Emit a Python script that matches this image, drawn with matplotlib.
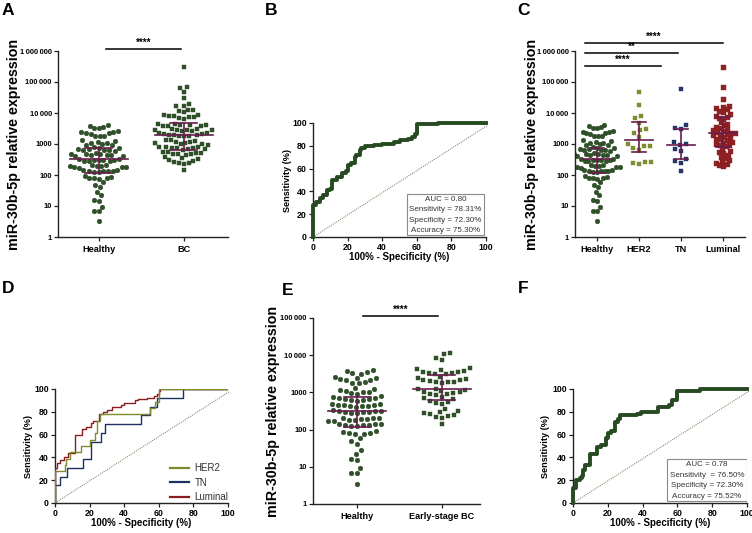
import numpy as np
import matplotlib
matplotlib.use("Agg")
import matplotlib.pyplot as plt
from matplotlib.patches import Rectangle

plt.rcParams['font.family'] = ['Liberation Sans', 'DejaVu Sans']

# ---------------- data ----------------
healthy = [4000, 3800, 3500, 3300, 3200,
           2600, 2500, 2400, 2300, 2200, 2100,
           1850, 1800, 1750,
           1300, 1250, 1150, 1100, 1050, 1000, 950, 900,
           780, 750, 720, 700, 680, 660, 640, 620, 600,
           500, 480, 470, 460, 450, 440, 430, 420, 410,
           330, 320, 315, 310, 300, 295, 290, 285, 280,
           210, 205, 200, 195, 190, 185, 180, 175, 170,
           145, 140, 138, 135, 132, 130, 128, 125,
           90, 85, 82, 80, 78, 75,
           60, 48, 42, 28, 22, 16, 15, 9.5, 7, 6.8, 3.4]
bc = [310000,
      71000, 63000, 49000,
      30000,
      19500, 17000, 17000,
      12600, 12400, 12000, 10500,
      8800, 8400, 8200, 7900, 7600, 7300, 7000, 6600,
      4400, 4300, 4200, 4100, 4000, 3900, 3800, 3700,
      3100, 3000, 2900, 2850, 2800, 2750, 2700, 2600,
      2300, 2200, 2100, 2050, 2000, 1950, 1900, 1850, 1800, 1750,
      1350, 1300, 1250, 1200, 1150, 1100, 1050, 1000, 980, 950,
      820, 800, 780, 760, 740, 720, 700, 680, 650,
      560, 540, 520, 500, 480, 470, 460, 450,
      370, 350, 330, 310, 290, 270, 250, 240, 230,
      140]
her2 = [47000, 18000, 8200, 6700, 4700, 3000, 2800, 2300, 1700,
        980, 880, 860, 760, 640, 260, 260, 240, 220]
tn = [59000, 4100, 3400, 3100, 1130, 980, 930, 670, 590, 320, 290, 250, 130]
luminal = [300000, 67000, 28000,
           17000, 15000, 16000, 12000, 13000, 11000,
           7400, 8000, 7000, 6500, 9000,
           5000, 4500, 4000, 3500, 3300, 3000,
           2800, 2600, 2400, 2300, 2200, 2100, 2000, 1900,
           1700, 1600, 1500, 1400, 1300, 1200,
           1100, 1000, 950, 900, 850,
           700, 600, 550, 500, 450,
           380, 350, 300,
           280, 250, 230, 210, 200]
early_bc = [11700, 10500, 8500, 7400,
            4400, 4200, 4000, 3800, 3600, 3500, 3400, 3300, 3200, 3100,
            2600, 2400, 2300, 2200, 2100, 2000, 1950, 1900, 1850, 1800,
            1250, 1200, 1150, 1100, 1050, 1000, 960, 920, 880, 850,
            750, 700, 650, 600, 560, 530, 500,
            350, 320, 300, 280, 260, 240, 230, 220, 210,
            140]

# median and interquartile range
a_cats = ["Healthy", "BC"]
a_med = [325, 1950]
a_q1 = [120, 650]
a_q3 = [730, 4800]

c_cats = ["Healthy", "HER2", "TN", "Luminal"]
c_med = [325, 1350, 930, 2200]
c_q1 = [120, 540, 330, 820]
c_q3 = [730, 5200, 3100, 7600]

e_cats = ["Healthy", "Early-stage BC"]
e_med = [325, 1200]
e_q1 = [120, 630]
e_q3 = [730, 3000]

# ROC curves (100% - specificity, sensitivity)
b_fpr = [0, 0, 2, 4, 6, 8, 10, 11, 14, 17, 19, 20, 22, 24, 25, 27, 28, 30, 35, 40, 47, 50, 55, 57, 59, 60, 72, 100]
b_tpr = [0, 28, 31, 34, 37, 41, 42, 50, 53, 56, 58, 63, 65, 70, 72, 76, 78, 80, 81, 82, 83, 85, 86, 88, 90, 99, 100, 100]
b_stats = ["AUC = 0.80", "Sensitivity = 78.31%", "Specificity = 72.30%", "Accuracy = 75.30%"]

f_fpr = [0, 0, 2, 4, 5, 6, 7, 10, 14, 16, 19, 20, 22, 24, 26, 27, 37, 39, 49, 55, 57, 60, 73, 100]
f_tpr = [0, 13, 20, 22, 24, 29, 33, 43, 49, 51, 57, 61, 63, 71, 74, 77, 78, 80, 84, 86, 90, 98, 100, 100]
f_stats = ["AUC = 0.78", "Sensitivity  = 76.50%", "Specificity = 72.30%", "Accuracy = 75.52%"]

her2_fpr = [0, 0, 5.8, 6.5, 8.7, 15, 20, 23, 24.5, 26, 55, 58, 60, 100]
her2_tpr = [0, 27.8, 33.3, 38.9, 44.4, 50, 55.6, 61.1, 72.2, 77.8, 83.3, 88.9, 100, 100]
tn_fpr = [0, 0, 2.9, 7, 16, 20.6, 26.4, 29, 49.5, 55, 58.8, 73.8, 100]
tn_tpr = [0, 15.4, 23.1, 30.8, 38.5, 53.8, 61.5, 69.2, 76.9, 84.6, 92.3, 100, 100]
lum_fpr = [0, 0, 1, 3, 5, 7.7, 11.6, 15.4, 18, 21, 22, 25.6, 28, 30, 33, 38, 40, 46, 48, 53, 57, 59, 60, 60.5, 100]
lum_tpr = [0, 31, 35, 38, 40, 44, 60, 65, 67, 70, 72, 78, 80, 82, 84, 86, 88, 90, 91, 92, 94, 96, 98, 100, 100]

# ---------------- styling ----------------
GREEN = "#284a22"
OLIVE = "#7b8a2c"
NAVY = "#1e2f62"
RED = "#8b1c1f"
PURPLE = "#6b1d4e"
DIAG = "#5d7d50"
W, H = 752, 533

fig = plt.figure(figsize=(7.52, 5.33), dpi=100)


def ax_px(l, t, r, b):
    return fig.add_axes([l / W, 1 - b / H, (r - l) / W, (b - t) / H])


def swarm(values, decade_px, d, max_half):
    ys = np.log10(np.asarray(values, float)) * decade_px
    order = np.argsort(ys)
    xs = np.zeros(len(ys))
    placed = []
    for i in order:
        y = ys[i]
        near = [(xj, yj) for xj, yj in placed if abs(y - yj) < d]
        cands = [0.0]
        for xj, yj in near:
            dx = np.sqrt(d * d - (y - yj) ** 2)
            cands += [xj + dx, xj - dx]
        best = 0.0
        for c in sorted(cands, key=lambda v: (abs(v), v)):
            if all((c - xj) ** 2 + (y - yj) ** 2 >= d * d - 1e-6 for xj, yj in near):
                best = c
                break
        xs[i] = best
        placed.append((best, y))
    m = np.max(np.abs(xs)) if len(xs) else 0
    if m > max_half:
        xs = xs * max_half / m
    return xs


def tick_fmt(v):
    v = int(v)
    if v >= 10000:
        return f"{v:,}".replace(",", "\u2009")
    return str(v)


def style_axes(ax):
    for s in ("top", "right"):
        ax.spines[s].set_visible(False)
    for s in ("left", "bottom"):
        ax.spines[s].set_linewidth(1.0)
        ax.spines[s].set_color("#222222")
    ax.tick_params(direction="out", length=3, width=0.9, color="#222222", pad=1.5)


def scatter_panel(ax, groups, cats, colors, markers, sizes, ds, halfs, med, q1, q3,
                  top_exp, decade_px, cat_px, xlim):
    ax.set_yscale("log")
    ax.set_ylim(1, 10 ** top_exp)
    ax.set_xlim(*xlim)
    for i, vals in enumerate(groups):
        off = swarm(vals, decade_px, ds[i], halfs[i]) / cat_px
        ax.plot(i + off, vals, ls="none", marker=markers[i], ms=sizes[i],
                mfc=colors[i], mec=colors[i], mew=0.3, alpha=0.97, zorder=2)
        ax.plot([i - 0.34, i + 0.34], [med[i], med[i]], color=PURPLE, lw=1.2, zorder=3)
        ax.plot([i, i], [q1[i], q3[i]], color=PURPLE, lw=1.2, zorder=3)
        for q in (q1[i], q3[i]):
            ax.plot([i - 0.16, i + 0.16], [q, q], color=PURPLE, lw=1.2, zorder=3)
    ticks = [10 ** k for k in range(top_exp + 1)]
    ax.set_yticks(ticks)
    ax.set_yticklabels([tick_fmt(t) for t in ticks], fontsize=5.4, fontweight="bold")
    ax.yaxis.set_minor_locator(matplotlib.ticker.NullLocator())
    ax.set_xticks(range(len(cats)))
    ax.set_xticklabels(cats, fontsize=6.6, fontweight="bold")
    style_axes(ax)
    ax.tick_params(axis="x", pad=3)
    ax.set_ylabel("miR-30b-5p relative expression", fontsize=10.3, fontweight="bold")


def sig(ax, x0, x1, y, text):
    tr = ax.get_xaxis_transform()
    ax.plot([x0, x1], [y, y], color="black", lw=1.1, transform=tr, clip_on=False)
    ax.text((x0 + x1) / 2, y + 0.006, text, transform=tr, ha="center", va="bottom",
            fontsize=7, fontweight="bold")


def roc_axes(ax):
    ax.set_xlim(0, 100)
    ax.set_ylim(0, 100)
    ax.set_xticks(range(0, 101, 20))
    ax.set_yticks(range(0, 101, 20))
    for lab in ax.get_xticklabels() + ax.get_yticklabels():
        lab.set_fontsize(6.3)
        lab.set_fontweight("bold")
    style_axes(ax)
    ax.plot([0, 101], [0, 98], ls=(0, (1, 1.2)), color=DIAG, lw=0.7, zorder=1, clip_on=False)
    ax.set_xlabel("100% - Specificity (%)", fontsize=7, fontweight="bold")
    ax.set_ylabel("Sensitivity (%)", fontsize=6.6, fontweight="bold")
    ax.xaxis.set_label_coords(0.5, -0.135)


def stats_box(ax, x0, x1, y0, y1, lines):
    ax.add_patch(Rectangle((x0, y0), x1 - x0, y1 - y0, transform=ax.transAxes,
                           fill=True, facecolor="white", edgecolor="#8a8a8a", lw=0.8, zorder=4))
    n = len(lines)
    for k, t in enumerate(lines):
        yy = y1 - (k + 0.55) * (y1 - y0) / n
        ax.text((x0 + x1) / 2, yy, t, transform=ax.transAxes, ha="center", va="center",
                fontsize=5.8, color="#333333", zorder=5)


# ---------- A ----------
axA = ax_px(58, 51, 228, 237)
scatter_panel(axA, [healthy, bc], a_cats, [GREEN, GREEN], ["o", "s"], [3.4, 3.1],
              [6.3, 6.2], [29, 29], a_med, a_q1, a_q3, 6, 31.0, 85.0, (-0.48, 1.52))
axA.yaxis.set_label_coords(-0.215, 0.5)
sig(axA, (106 - 99) / 85, (181 - 99) / 85, 1.011, "****")

# ---------- B ----------
axB = ax_px(313, 123, 486, 237)
roc_axes(axB)
axB.plot(b_fpr, b_tpr, drawstyle="steps-post", color=GREEN, lw=2.8, zorder=3, clip_on=False)
axB.yaxis.set_label_coords(-0.12, 0.5)
stats_box(axB, 0.543, 0.988, 0.018, 0.377, b_stats)

# ---------- C ----------
axC = ax_px(575, 51, 745, 237)
scatter_panel(axC, [healthy, her2, tn, luminal], c_cats, [GREEN, OLIVE, NAVY, RED],
              ["o", "s", "s", "s"], [3.4, 3.1, 3.1, 3.6], [6.3, 6.2, 6.2, 4.6],
              [24, 12, 12, 12], c_med, c_q1, c_q3, 6, 31.0, 42.0, (-0.52, 3.52))
axC.yaxis.set_label_coords(-0.21, 0.5)
sig(axC, -0.29, 3.0, (237 - 43) / 186, "****")
sig(axC, -0.29, 1.93, (237 - 53) / 186, "**")
sig(axC, -0.29, 1.52, (237 - 66) / 186, "****")

# ---------- D ----------
axD = ax_px(55, 389, 228, 503)
roc_axes(axD)
axD.plot(tn_fpr, tn_tpr, drawstyle="steps-post", color=NAVY, lw=1.0, zorder=3, label="TN")
axD.plot(lum_fpr, lum_tpr, drawstyle="steps-post", color=RED, lw=1.0, zorder=4, label="Luminal")
axD.plot(her2_fpr, her2_tpr, drawstyle="steps-post", color=OLIVE, lw=1.0, zorder=5, label="HER2")
axD.yaxis.set_label_coords(-0.125, 0.5)
h, l = axD.get_legend_handles_labels()
order = [l.index("HER2"), l.index("TN"), l.index("Luminal")]
leg = axD.legend([h[i] for i in order], [l[i] for i in order], loc="lower left",
                 bbox_to_anchor=(0.62, -0.06), frameon=False, fontsize=7,
                 handlelength=1.9, handletextpad=0.6, labelspacing=0.45, borderpad=0.3)
for t in leg.get_texts():
    t.set_color("#333333")
for ln in leg.get_lines():
    ln.set_linewidth(1.6)

# ---------- E ----------
axE = ax_px(313, 318, 480, 504)
scatter_panel(axE, [healthy, early_bc], e_cats, [GREEN, GREEN], ["o", "s"], [3.4, 3.1],
              [6.3, 6.2], [29, 29], e_med, e_q1, e_q3, 5, 37.2, 85.0, (-0.52, 1.45))
axE.yaxis.set_label_coords(-0.195, 0.5)
sig(axE, (363 - 357) / 85, (438 - 357) / 85, 1.011, "****")

# ---------- F ----------
axF = ax_px(573, 389, 747, 503)
roc_axes(axF)
axF.plot(f_fpr, f_tpr, drawstyle="steps-post", color=GREEN, lw=2.8, zorder=3, clip_on=False)
axF.yaxis.set_label_coords(-0.13, 0.5)
stats_box(axF, 0.54, 1.0, 0.018, 0.386, f_stats)

# panel letters
for letter, x, y in [("A", 2, 3), ("B", 265, 3), ("C", 517, 3),
                     ("D", 2, 281), ("E", 282, 283), ("F", 518, 281)]:
    fig.text(x / W, 1 - y / H, letter, fontsize=12.5, fontweight="bold", va="top", ha="left")

fig.savefig("out.png", dpi=100)
